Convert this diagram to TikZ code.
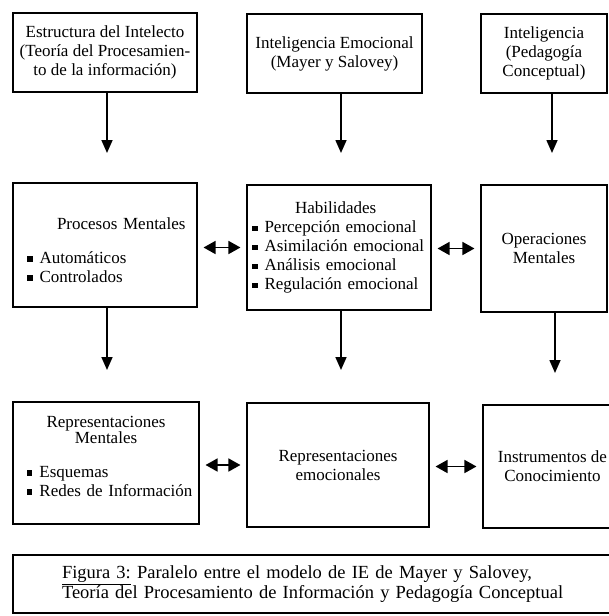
\documentclass[tikz,border=0pt]{standalone}
\usepackage{fontspec}
\setmainfont{Liberation Serif}
\usetikzlibrary{arrows.meta}
\newcommand{\bul}{\rule[1.5pt]{5.5pt}{5.5pt}\hspace{7pt}}
\hyphenpenalty=10000

\begin{document}
\begin{tikzpicture}[x=1pt,y=-1pt,
  caja/.style={draw,line width=1.1pt,inner sep=0pt,align=center,
    font=\fontsize{17}{19}\selectfont},
  flecha/.style={line width=1.6pt,-{Triangle[width=11pt,length=13pt]}},
  doble/.style={line width=1.6pt,
    {Triangle[width=13pt,length=12pt]}-{Triangle[width=13pt,length=12pt]},
    shorten <=6pt,shorten >=6pt}]
\useasboundingbox (0,0) rectangle (608,616);

% fila superior
\node[caja,minimum width=184pt,minimum height=79pt] (est) at (105,52.5)
  {Estructura del Intelecto\\(Teoría del Procesamien-\\to de la información)};
\node[caja,minimum width=175pt,minimum height=79pt] (ie) at (334.5,53.5)
  {Inteligencia Emocional\\(Mayer y Salovey)};
\node[caja,minimum width=126pt,minimum height=79pt] (intel) at (544,53.5)
  {Inteligencia\\(Pedagogía\\Conceptual)};

% fila central
\node[caja,minimum width=184pt,minimum height=124pt,text width=176pt,align=left] (proc) at (105,245)
  {\rule{0pt}{22pt}\hspace*{40pt}Procesos Mentales\\[15pt]\hspace*{10pt}\bul Automáticos\\\hspace*{10pt}\bul Controlados};
\node[caja,minimum width=184pt,minimum height=125pt,text width=180pt,align=left] (hab) at (339,247.5)
  {\hspace*{46pt}Habilidades\\\hspace*{3pt}\bul Percepción emocional\\\hspace*{3pt}\bul Asimilación emocional\\
   \hspace*{3pt}\bul Análisis emocional\\\hspace*{3pt}\bul Regulación emocional};
\node[caja,minimum width=126pt,minimum height=127pt] (oper) at (544,248.5)
  {Operaciones\\Mentales};

% fila inferior
\node[caja,minimum width=186pt,minimum height=122pt,text width=180pt,align=left] (rment) at (106,463)
  {\makebox[180pt]{Representaciones}\\[-3pt]\makebox[180pt]{Mentales}\\[15pt]
   \hspace*{11pt}\bul Esquemas\\\hspace*{11pt}\bul Redes de Información\rule[-14pt]{0pt}{0pt}};
\node[caja,minimum width=182pt,minimum height=124pt] (remo) at (338,465)
  {Representaciones\\emocionales};
\node[caja,minimum width=139pt,minimum height=123pt] (instr) at (552.5,466.5)
  {Instrumentos de\\Conocimiento};

% leyenda
\node[caja,minimum width=612pt,minimum height=58pt,text width=514pt,align=left,
  font=\fontsize{18.5}{20}\selectfont] (leyenda) at (319,584)
  {\underline{Figura 3:} Paralelo entre el modelo de IE de Mayer y Salovey,\\
   Teoría del Procesamiento de Información y Pedagogía Conceptual};

% flechas hacia abajo
\coordinate (t1) at (107,153);
\coordinate (t2) at (341,153);
\coordinate (t3) at (552,153);
\coordinate (t4) at (107,370);
\coordinate (t5) at (341,370);
\coordinate (t6) at (555,373);
\draw[flecha] (t1 |- est.south) -- (t1);
\draw[flecha] (t2 |- ie.south) -- (t2);
\draw[flecha] (t3 |- intel.south) -- (t3);
\draw[flecha] (t4 |- proc.south) -- (t4);
\draw[flecha] (t5 |- hab.south) -- (t5);
\draw[flecha] (t6 |- oper.south) -- (t6);

% flechas dobles
\draw[doble] (proc.east |- hab.west) -- (hab.west);
\draw[doble] (hab.east |- oper.west) -- (oper.west);
\draw[doble] (rment.east |- remo.west) -- (remo.west);
\draw[doble] (remo.east |- instr.west) -- (instr.west);
\end{tikzpicture}
\end{document}
